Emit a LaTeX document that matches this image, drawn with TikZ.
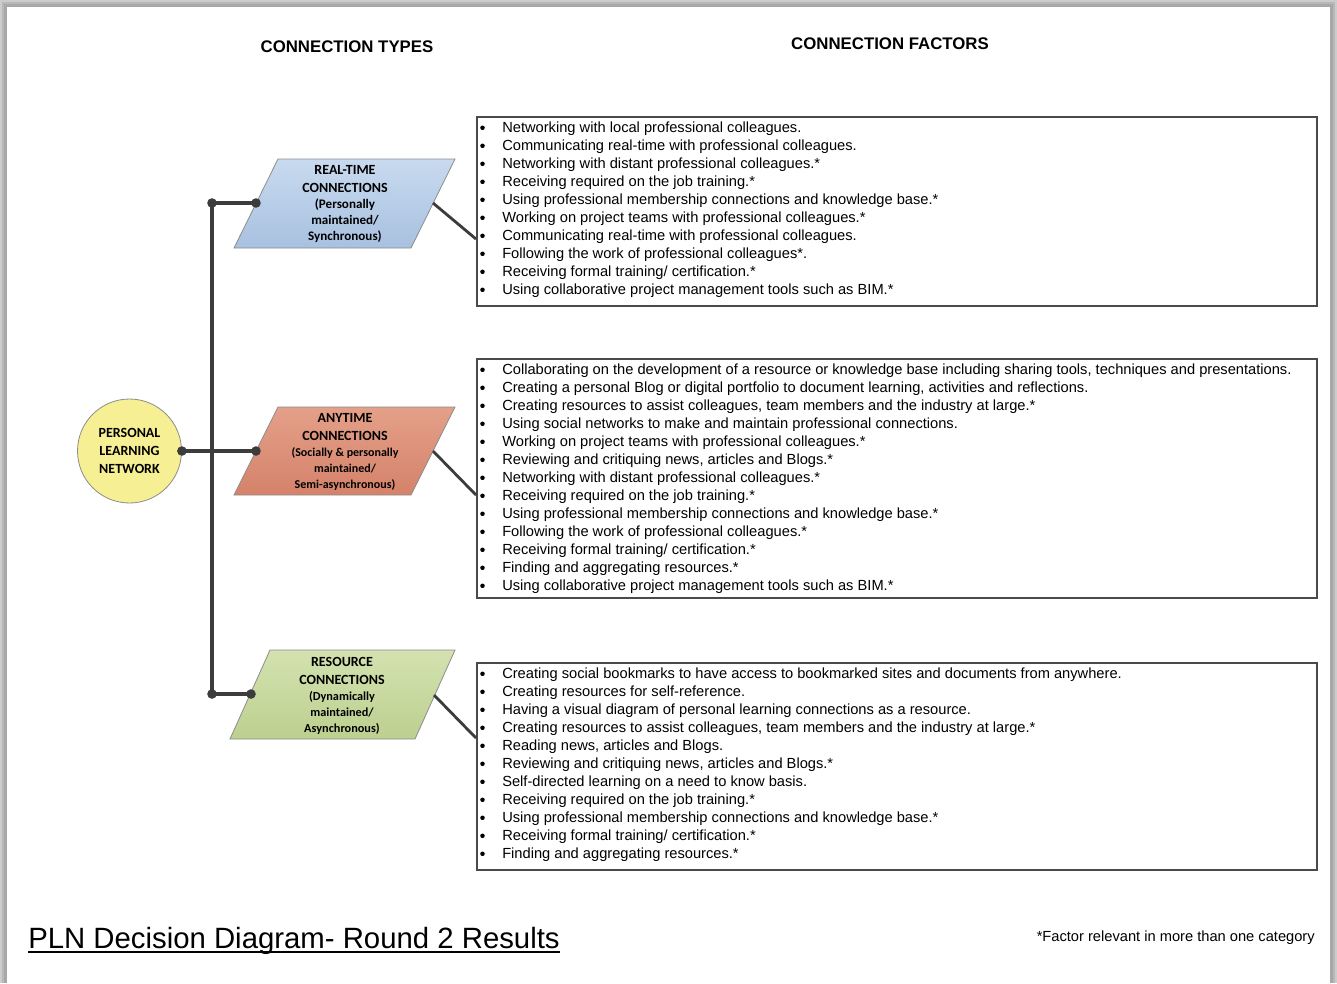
\documentclass[tikz,border=0pt]{standalone}
\usepackage{fontspec}
\setmainfont{Liberation Sans}
\newfontfamily\calibfont{Carlito}
\usetikzlibrary{calc}

\definecolor{linegray}{HTML}{3C3C3C}
\definecolor{boxgray}{HTML}{4A4A4A}
\definecolor{edgegray}{HTML}{8C8C8C}
\definecolor{plnyellow}{HTML}{F6EF93}
\definecolor{rtblueA}{HTML}{C8DAEF}
\definecolor{rtblueB}{HTML}{A8C1E0}
\definecolor{atredA}{HTML}{E4A089}
\definecolor{atredB}{HTML}{D5826A}
\definecolor{rsgreenA}{HTML}{D3E2B0}
\definecolor{rsgreenB}{HTML}{BCD08F}

% one bullet list of connection factors: name prefix, first baseline, items
\newcommand\factorlist[3]{%
  \foreach \txt [count=\i] in {#3} {
    \node[factor] (#1-\i) at (502,{#2+18*(\i-1)}) {\txt};
    \node[bulletmark] (#1-b\i) at (482.5,{#2+18*(\i-1)-4.2}) {};
  }}

\begin{document}
\begin{tikzpicture}[x=0.75pt,y=-0.75pt,
  conn/.style={draw=linegray, line width=2.5pt},
  slantconn/.style={draw=linegray, line width=2.1pt},
  dot/.style={circle, fill=linegray, inner sep=0pt, minimum size=7.2pt},
  factorbox/.style={draw=boxgray, line width=1.4pt, fill=white, anchor=north west, inner sep=0pt},
  factor/.style={anchor=base west, inner sep=0pt, font=\fontsize{11}{13}\selectfont},
  bulletmark/.style={circle, fill=black, inner sep=0pt, minimum size=3.4pt},
  heading/.style={anchor=base, inner sep=0pt, font=\fontsize{12.6}{15}\selectfont\bfseries},
  typeshape/.style={draw=edgegray, line width=0.6pt},
  typetext/.style={align=center, inner sep=0pt, font=\calibfont\bfseries\fontsize{10.5}{13.5}\selectfont}
]
\useasboundingbox (0,0) rectangle (1337,983);

% page edge shadow
\fill[black!20] (0,0) rectangle (1337,983);
\fill[black!28] (2,2) rectangle (1335,983);
\fill[black!34] (4,4) rectangle (1333,983);
\fill[white] (7,7) rectangle (1330,983);

% column headings
\node[heading] (typeshead) at (347,52) {CONNECTION TYPES};
\node[heading] (factorshead) at (890,49) {CONNECTION FACTORS};

% factor boxes
\node[factorbox, minimum width=630pt, minimum height=141.75pt] (b1) at (476,116) {};
\node[factorbox, minimum width=630pt, minimum height=179.25pt] (b2) at (476,358) {};
\node[factorbox, minimum width=630pt, minimum height=155.25pt] (b3) at (476,662) {};

\factorlist{f1}{132}{
  Networking with local professional colleagues.,
  Communicating real-time with professional colleagues.,
  Networking with distant professional colleagues.*,
  Receiving required on the job training.*,
  Using professional membership connections and knowledge base.*,
  Working on project teams with professional colleagues.*,
  Communicating real-time with professional colleagues.,
  Following the work of professional colleagues*.,
  Receiving formal training/ certification.*,
  Using collaborative project management tools such as BIM.*}

\factorlist{f2}{374}{
  {Collaborating on the development of a resource or knowledge base including sharing tools, techniques and presentations.},
  {Creating a personal Blog or digital portfolio to document learning, activities and reflections.},
  {Creating resources to assist colleagues, team members and the industry at large.*},
  Using social networks to make and maintain professional connections.,
  Working on project teams with professional colleagues.*,
  {Reviewing and critiquing news, articles and Blogs.*},
  Networking with distant professional colleagues.*,
  Receiving required on the job training.*,
  Using professional membership connections and knowledge base.*,
  Following the work of professional colleagues.*,
  Receiving formal training/ certification.*,
  Finding and aggregating resources.*,
  Using collaborative project management tools such as BIM.*}

\factorlist{f3}{678}{
  Creating social bookmarks to have access to bookmarked sites and documents from anywhere.,
  Creating resources for self-reference.,
  Having a visual diagram of personal learning connections as a resource.,
  {Creating resources to assist colleagues, team members and the industry at large.*},
  {Reading news, articles and Blogs.},
  {Reviewing and critiquing news, articles and Blogs.*},
  Self-directed learning on a need to know basis.,
  Receiving required on the job training.*,
  Using professional membership connections and knowledge base.*,
  Receiving formal training/ certification.*,
  Finding and aggregating resources.*}

% connection type shapes
\path[typeshape, top color=rtblueA, bottom color=rtblueB]
  (278,159) -- (455,159) -- (411,248) -- (234,248) -- cycle;
\path[typeshape, top color=atredA, bottom color=atredB]
  (278,407) -- (455,407) -- (411,495) -- (234,495) -- cycle;
\path[typeshape, top color=rsgreenA, bottom color=rsgreenB]
  (270,650) -- (455,650) -- (415,739) -- (230,739) -- cycle;

\node[typetext] (rt) at (345,204) {REAL-TIME\\CONNECTIONS\\[-1.5pt]
  {\fontsize{9.8}{12}\selectfont (Personally}\\[-1.5pt]
  {\fontsize{9.8}{12}\selectfont maintained/}\\[-1.5pt]
  {\fontsize{9.8}{12}\selectfont Synchronous)}};
\node[typetext] (at) at (345,452) {ANYTIME\\CONNECTIONS\\[-1.5pt]
  {\fontsize{9}{12}\selectfont (Socially \& personally}\\[-1.5pt]
  {\fontsize{9}{12}\selectfont maintained/}\\[-1.5pt]
  {\fontsize{9}{12}\selectfont Semi-asynchronous)}};
\node[typetext] (rs) at (342,696) {RESOURCE\\CONNECTIONS\\[-1.5pt]
  {\fontsize{9.2}{12}\selectfont (Dynamically}\\[-1.5pt]
  {\fontsize{9.2}{12}\selectfont maintained/}\\[-1.5pt]
  {\fontsize{9.2}{12}\selectfont Asynchronous)}};

% personal learning network
\node[circle, draw=edgegray, line width=0.6pt, fill=plnyellow, minimum size=78pt,
      inner sep=0pt, typetext] (pln) at (129.5,451) {PERSONAL\\LEARNING\\NETWORK};

% junction dots
\node[dot] (j1) at (212,203) {};
\node[dot] (j3) at (212,694) {};
\node[dot] (rtin) at (256,203) {};
\node[dot] (atin) at (256,451) {};
\node[dot] (rsin) at (251,694) {};
\node[dot] (plnout) at (pln.east) {};

\coordinate (rtout) at (433,203);
\coordinate (atout) at (433,451);
\coordinate (rsout) at (434,695);
\coordinate (b1in) at (b1.west |- 0,239);
\coordinate (b2in) at (b2.west |- 0,495);
\coordinate (b3in) at (b3.west |- 0,738);

% tree connectors
\draw[conn] (j1.center) -- (j3.center);
\draw[conn] (j1.center) -- (rtin.center);
\draw[conn] (j3.center) -- (rsin.center);
\draw[conn] (plnout.center) -- (atin.center);

% links from types to factor boxes
\draw[slantconn] (rtout) -- (b1in);
\draw[slantconn] (atout) -- (b2in);
\draw[slantconn] (rsout) -- (b3in);

% footer
\node[anchor=base west, inner sep=0pt, font=\fontsize{22}{26}\selectfont] (title) at (28,948)
  {PLN Decision Diagram- Round 2 Results};
\draw[line width=1.4pt] ([yshift=-3.2pt]title.base west) -- ([yshift=-3.2pt]title.base east);
\node[anchor=base east, inner sep=0pt, font=\fontsize{11}{13}\selectfont] (note) at (1315,941)
  {*Factor relevant in more than one category};
\end{tikzpicture}
\end{document}
